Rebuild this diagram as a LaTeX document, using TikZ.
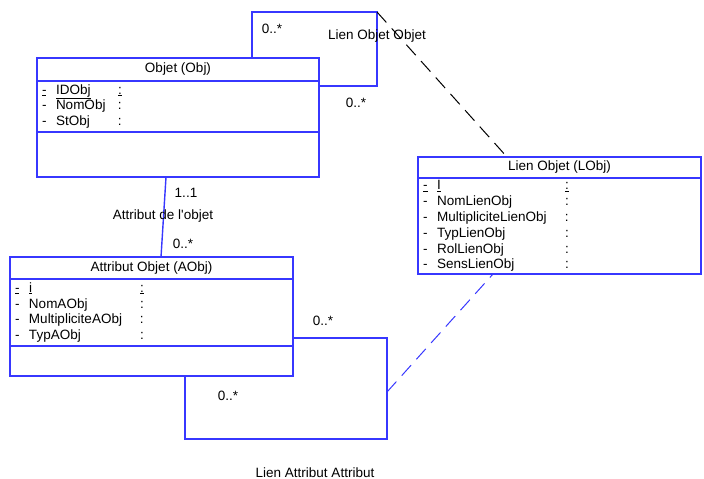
\documentclass[tikz,border=0pt]{standalone}
\usepackage{fontspec}
\setmainfont{Liberation Sans}
\usetikzlibrary{calc,positioning}
\definecolor{umlblue}{RGB}{55,55,255}
\newcommand{\attrrow}[2]{\makebox[14pt][l]{-}\makebox[#1][l]{#2}:}
\newcommand{\keyrow}[2]{\makebox[14pt][l]{\underline{-}}\makebox[#1][l]{\underline{#2}}\underline{:}}

\begin{document}
\begin{tikzpicture}[x=1pt, y=-1pt, font=\fontsize{13.5}{15.9}\selectfont,
    box/.style={draw=umlblue, line width=1.4pt, rectangle, outer sep=0pt, inner sep=0pt},
    attrs/.style={box, align=left, inner xsep=5pt},
    assoc/.style={draw=umlblue, line width=1.4pt},
    dep/.style={line width=1pt, dash pattern=on 14pt off 8pt},
    lbl/.style={inner sep=0pt, text height=10pt, text depth=3pt}]
    \useasboundingbox (0,0) rectangle (704,479);

    \node[box, minimum width=282pt, minimum height=23pt, anchor=north west] (objT) at (37,58) {Objet (Obj)};
    \node[attrs, text width=272pt, minimum height=51pt, below=0pt of objT] (objA) {\keyrow{62pt}{IDObj}\\ \attrrow{62pt}{NomObj}\\ \attrrow{62pt}{StObj}};
    \node[box, minimum width=282pt, minimum height=45pt, below=0pt of objA] (objO) {};

    \node[box, minimum width=283pt, minimum height=21pt, anchor=north west] (lobjT) at (418,157) {Lien Objet (LObj)};
    \node[attrs, text width=273pt, minimum height=96pt, below=0pt of lobjT] (lobjA) {\keyrow{128pt}{I}\\ \attrrow{128pt}{NomLienObj}\\ \attrrow{128pt}{MultipliciteLienObj}\\ \attrrow{128pt}{TypLienObj}\\ \attrrow{128pt}{RolLienObj}\\ \attrrow{128pt}{SensLienObj}};

    \node[box, minimum width=283pt, minimum height=22pt, anchor=north west] (aobjT) at (10,257) {Attribut Objet (AObj)};
    \node[attrs, text width=273pt, minimum height=67pt, below=0pt of aobjT] (aobjA) {\keyrow{111pt}{i}\\ \attrrow{111pt}{NomAObj}\\ \attrrow{111pt}{MultipliciteAObj}\\ \attrrow{111pt}{TypAObj}};
    \node[box, minimum width=283pt, minimum height=30pt, below=0pt of aobjA] (aobjO) {};

    \coordinate (oo1) at (252,12);
    \coordinate (oo2) at (377,12);
    \coordinate (oo3) at (377,86);
    \draw[assoc] (objT.north -| oo1) -- (oo1) -- (oo2) -- (oo3) -- (oo3 -| objA.east);
    \draw[dep] (oo2) -- ($(lobjT.north west)+(89,0)$);
    \node[lbl] (ooM1) at (272,30) {0..*};
    \node[lbl] (ooM2) at (356,104) {0..*};
    \node[lbl] (ooN) at (377,36) {Lien Objet Objet};

    \draw[assoc] ($(objO.south west)+(129,0)$) -- ($(aobjT.north west)+(151,0)$);
    \node[lbl] (oaM1) at (186,194) {1..1};
    \node[lbl] (oaN) at (163,216) {Attribut de l\textquotesingle objet};
    \node[lbl] (oaM2) at (183,245) {0..*};

    \coordinate (aa1) at (387,338);
    \coordinate (aa2) at (387,439);
    \coordinate (aa3) at (185,439);
    \coordinate (ad1) at (387,392);
    \draw[assoc] (aa1 -| aobjA.east) -- (aa1) -- (aa2) -- (aa3) -- (aa3 |- aobjO.south);
    \draw[assoc, dep] (ad1) -- ($(lobjA.south west)+(75,0)$);
    \node[lbl] (aaM1) at (323,322) {0..*};
    \node[lbl] (aaM2) at (228,397) {0..*};
    \node[lbl] (aaN) at (315,474) {Lien Attribut Attribut};
\end{tikzpicture}
\end{document}
